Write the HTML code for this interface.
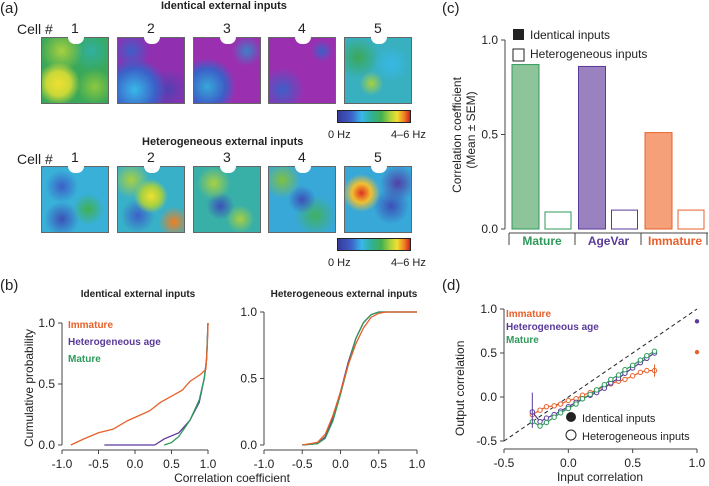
<!DOCTYPE html>
<html><head><meta charset="utf-8">
<style>
body{margin:0;background:#fff;font-family:"Liberation Sans",sans-serif;}
#root{position:relative;width:709px;height:486px;overflow:hidden;}
.t{position:absolute;font-family:"Liberation Sans",sans-serif;color:#222;white-space:nowrap;}
.hm{position:absolute;width:68px;height:67px;border:1px solid #666;box-sizing:border-box;}
.hole{position:absolute;left:26px;top:-1px;width:16px;height:7px;background:#fff;border-radius:0 0 8px 8px;}
.cb{position:absolute;width:74px;height:13px;border:1px solid #222;box-sizing:border-box;background:linear-gradient(90deg,#3a3a9a,#3c5fc8 18%,#38b8e8 33%,#30b0a0 45%,#40b050 60%,#a8d040 72%,#f0e030 82%,#f08020 92%,#d02020);}
</style></head><body>
<div id="root">
<div class="t" style="left:0;top:0;font-size:15px">(a)</div>
<div class="t" style="left:161px;top:0;font-size:11px;font-weight:bold">Identical external inputs</div>
<div class="t" style="left:17px;top:21px;font-size:14px">Cell #</div>
<div class="t" style="left:142px;top:136px;font-size:11px;font-weight:bold">Heterogeneous external inputs</div>
<div class="t" style="left:17px;top:151px;font-size:14px">Cell #</div>
<div id="hms"></div>
<div class="cb" style="left:337px;top:110px"></div>
<div class="t" style="left:328px;top:129px;font-size:11px">0 Hz</div>
<div class="t" style="left:391px;top:129px;font-size:11px">4–6 Hz</div>
<div class="cb" style="left:337px;top:238px"></div>
<div class="t" style="left:328px;top:257px;font-size:11px">0 Hz</div>
<div class="t" style="left:391px;top:257px;font-size:11px">4–6 Hz</div>
<div class="t" style="left:442px;top:0;font-size:15px">(c)</div>
<div class="t" style="left:0;top:277px;font-size:15px">(b)</div>
<div class="t" style="left:442px;top:277px;font-size:15px">(d)</div>
<svg id="svg" width="709" height="486" style="position:absolute;left:0;top:0"></svg>
</div>
<script>
// ---- heatmaps (visual images) ----
const hmX=[41,117,193,268,344];
const topBg=[
 "radial-gradient(circle at 25% 70%,#f0e030 0,#c8d838 18%,transparent 32%),radial-gradient(circle at 80% 75%,#8cc840 0,transparent 25%),radial-gradient(circle at 30% 20%,#a8d040 0,transparent 30%),radial-gradient(circle at 75% 20%,#30b0a0 0,transparent 30%),#3aa858",
 "radial-gradient(circle at 25% 80%,#38b8e8 0,#3c5fc8 30%,transparent 45%),radial-gradient(circle at 20% 20%,#3c5fc8 0,transparent 25%),radial-gradient(circle at 75% 80%,#5040b0 0,transparent 30%),#9030b0",
 "radial-gradient(circle at 20% 75%,#38a8d8 0,#3c5fc8 25%,transparent 40%),radial-gradient(circle at 80% 20%,#3c80c8 0,transparent 20%),#9a30b0",
 "radial-gradient(circle at 20% 80%,#3c5fc8 0,transparent 30%),radial-gradient(circle at 80% 20%,#3c5fc8 0,transparent 15%),#9a30b0",
 "radial-gradient(circle at 40% 70%,#a8d040 0,transparent 20%),radial-gradient(circle at 70% 40%,#38b8e8 0,transparent 30%),radial-gradient(circle at 20% 30%,#3aa858 0,transparent 30%),#38b0c0"];
const botBg=[
 "radial-gradient(circle at 30% 30%,#3c5fc8 0,transparent 25%),radial-gradient(circle at 70% 65%,#40b050 0,transparent 25%),radial-gradient(circle at 30% 80%,#3c50b8 0,transparent 25%),#38b0d8",
 "radial-gradient(circle at 50% 45%,#f0e030 0,#a8d040 20%,transparent 35%),radial-gradient(circle at 20% 20%,#a8d040 0,transparent 25%),radial-gradient(circle at 85% 85%,#f08020 0,transparent 20%),radial-gradient(circle at 30% 75%,#3c5fc8 0,transparent 25%),#38b0c8",
 "radial-gradient(circle at 30% 25%,#a8d040 0,transparent 25%),radial-gradient(circle at 70% 80%,#a8d040 0,transparent 20%),radial-gradient(circle at 40% 60%,#3c50b8 0,transparent 25%),#38b0a8",
 "radial-gradient(circle at 20% 20%,#80c040 0,transparent 25%),radial-gradient(circle at 50% 50%,#3c50b8 0,transparent 30%),radial-gradient(circle at 70% 75%,#40b060 0,transparent 30%),#38a8d8",
 "radial-gradient(circle at 25% 40%,#e03020 0,#f0c030 15%,transparent 30%),radial-gradient(circle at 70% 60%,#3c50b8 0,transparent 30%),radial-gradient(circle at 80% 25%,#5040a8 0,transparent 25%),#38a8d8"];
const hmBox=document.getElementById('hms');
hmX.forEach((x,i)=>{
 [[37,topBg],[166,botBg]].forEach(([y,bg],r)=>{
  const d=document.createElement('div');d.className='hm';
  d.style.left=x+'px';d.style.top=y+'px';d.style.background=bg[i];
  
  
  const h=document.createElement('div');h.className='hole';d.appendChild(h);
  hmBox.appendChild(d);
  const n=document.createElement('div');n.className='t';n.textContent=String(i+1);
  n.style.left=(x+30)+'px';n.style.top=(y-17)+'px';n.style.fontSize='14px';
  
  
  hmBox.appendChild(n);
 });
});

// ---- chart data ----
const barGroups=["Mature","AgeVar","Immature"];
const identicalVals=[0.87,0.86,0.51];
const heteroVals=[0.09,0.10,0.10];
const barTicks=[0,0.5,1.0];
const immatureCdfX=[-0.88,-0.7,-0.5,-0.3,-0.1,0.05,0.2,0.35,0.5,0.65,0.75,0.9,0.97,0.99,1.0];
const immatureCdfY=[0,0.05,0.1,0.13,0.2,0.24,0.28,0.35,0.4,0.45,0.52,0.58,0.62,0.8,1.0];
const ageCdfX=[-0.42,0.27,0.4,0.6,0.75,0.88,0.95,0.98,1.0];
const ageCdfY=[0,0,0.05,0.1,0.2,0.35,0.55,0.7,1.0];
const matureCdfX=[0.4,0.5,0.6,0.75,0.88,0.95,0.98,1.0];
const matureCdfY=[0,0.02,0.07,0.2,0.37,0.55,0.7,1.0];
const hetCdfX=[-0.5,-0.3,-0.2,-0.1,0,0.1,0.2,0.3,0.4,0.5,0.6,1.0];
const hetImmY=[0,0.02,0.08,0.22,0.4,0.6,0.76,0.88,0.96,0.99,1,1];
const hetAgeY=[0,0.01,0.06,0.2,0.4,0.62,0.8,0.92,0.98,1,1,1];
const hetMatY=[0,0.01,0.05,0.18,0.38,0.6,0.8,0.92,0.98,1,1,1];
const cdfTicksX=[-1.0,-0.5,0.0,0.5,1.0];
const cdfTicksY=[0,0.5,1.0];
const inX=[-0.28,-0.22,-0.17,-0.11,-0.06,0.0,0.06,0.11,0.17,0.22,0.28,0.33,0.39,0.44,0.5,0.56,0.61,0.67];
const immOut=[-0.2,-0.15,-0.11,-0.1,-0.08,-0.04,-0.02,0.02,0.05,0.08,0.12,0.15,0.18,0.2,0.24,0.28,0.3,0.3];
const ageOut=[-0.17,-0.28,-0.24,-0.2,-0.16,-0.11,-0.06,-0.02,0.02,0.05,0.1,0.16,0.21,0.27,0.33,0.39,0.44,0.5];
const matOut=[-0.28,-0.33,-0.29,-0.23,-0.18,-0.13,-0.08,-0.02,0.03,0.08,0.14,0.2,0.25,0.31,0.36,0.42,0.47,0.52];
const identPtsY=[0.86,0.51];
const corrTicksX=[-0.5,0.0,0.5,1.0];
const corrTicksY=[-0.5,0.0,0.5,1.0];

const GREEN="#2e9a5a",PURPLE="#5a3a9a",ORANGE="#e8602a";
const S=document.getElementById('svg');
function el(tag,attrs,name){const e=document.createElementNS('http://www.w3.org/2000/svg',tag);for(const k in attrs)e.setAttribute(k,attrs[k]);


S.appendChild(e);return e;}
function txt(x,y,s,name,o){const e=el('text',Object.assign({x:x,y:y,'font-size':12,'font-family':'Liberation Sans, sans-serif',fill:'#222'},o||{}),name);e.textContent=s;return e;}
function lin(d0,d1,r0,r1){return v=>r0+(v-d0)/(d1-d0)*(r1-r0);}

// ---- panel c ----
const cy=lin(0,1,229,40);
el('line',{x1:505,y1:cy(0),x2:505,y2:cy(1),stroke:'#444'},'c-y-axis');
barTicks.forEach(t=>{el('line',{x1:501,x2:505,y1:cy(t),y2:cy(t),stroke:'#444'},'c-y-tick');txt(498,cy(t)+4,t.toFixed(1),'c-y-tick-label',{'text-anchor':'end'});});
txt(0,0,'Correlation coefficient','c-y-axis-title',{transform:'translate(461,135) rotate(-90)','font-size':12,'text-anchor':'middle'});
txt(0,0,'(Mean ± SEM)','c-y-axis-title-2',{transform:'translate(475,130) rotate(-90)','font-size':12,'text-anchor':'middle'});
const gCol=[GREEN,PURPLE,ORANGE],gFill=["#8ec49a","#9a82c0","#f6a07a"];
barGroups.forEach((g,i)=>{
 const gx=512+i*66.5;
 el('rect',{x:gx,y:cy(identicalVals[i]),width:27,height:cy(0)-cy(identicalVals[i]),fill:gFill[i],stroke:gCol[i]},'bar-identical-'+g.toLowerCase());
 el('rect',{x:gx+33,y:cy(heteroVals[i]),width:26,height:cy(0)-cy(heteroVals[i]),fill:'#fff',stroke:gCol[i]},'bar-heterogeneous-'+g.toLowerCase());
 txt(gx+30,245,g,'group-label-'+g.toLowerCase(),{'text-anchor':'middle','font-weight':'bold',fill:gCol[i],'font-size':12});
});
el('line',{x1:509,x2:708,y1:233,y2:233,stroke:'#444'},'c-x-axis');
[509,575,641,707].forEach(x=>el('line',{x1:x,x2:x,y1:233,y2:245,stroke:'#444'},'c-group-divider'));
el('rect',{x:513,y:29,width:11,height:11,fill:'#222'},'legend-identical-swatch');
txt(530,39,'Identical inputs','legend-identical',{'font-size':12});
el('rect',{x:513,y:49,width:11,height:12,fill:'#fff',stroke:'#222'},'legend-heterogeneous-swatch');
txt(530,58,'Heterogeneous inputs','legend-heterogeneous',{'font-size':12});

// ---- panel b ----
function cdfPanel(x0,x1,y0,y1,series,pfx){
 const fx=lin(-1,1,x0,x1),fy=lin(0,1,y0,y1);
 el('line',{x1:x0,x2:x0,y1:y0,y2:y1,stroke:'#444'},pfx+'-y-axis');
 el('line',{x1:x0,x2:x1,y1:y0+5,y2:y0+5,stroke:'#444'},pfx+'-x-axis');
 cdfTicksY.forEach(t=>{el('line',{x1:x0-4,x2:x0,y1:fy(t),y2:fy(t),stroke:'#444'},pfx+'-y-tick');txt(x0-7,fy(t)+4,t.toFixed(1),pfx+'-y-tick-label',{'text-anchor':'end'});});
 cdfTicksX.forEach(t=>{el('line',{x1:fx(t),x2:fx(t),y1:y0+5,y2:y0+9,stroke:'#444'},pfx+'-x-tick');txt(fx(t),y0+23,t.toFixed(1),pfx+'-x-tick-label',{'text-anchor':'middle'});});
 series.forEach(([xs,ys,c,n])=>{el('polyline',{points:xs.map((x,i)=>fx(x)+','+fy(ys[i])).join(' '),fill:'none',stroke:c,'stroke-width':1.3},pfx+'-'+n+'-line');});
}
cdfPanel(62,208,445,323,[[ageCdfX,ageCdfY,PURPLE,'age'],[matureCdfX,matureCdfY,GREEN,'mature'],[immatureCdfX,immatureCdfY,ORANGE,'immature']],'bl');
cdfPanel(264,417,445,312,[[hetCdfX,hetAgeY,PURPLE,'age'],[hetCdfX,hetMatY,GREEN,'mature'],[hetCdfX,hetImmY,ORANGE,'immature']],'br');
txt(138,297,'Identical external inputs','bl-title',{'text-anchor':'middle','font-weight':'bold','font-size':10});
txt(344,297,'Heterogeneous external inputs','br-title',{'text-anchor':'middle','font-weight':'bold','font-size':10});
txt(0,0,'Cumulative probability','bl-y-title',{transform:'translate(33,447) rotate(-90)','font-size':12});
txt(232,482,'Correlation coefficient','b-x-title',{'text-anchor':'middle','font-size':12});
txt(68,328,'Immature','bl-legend-immature',{fill:ORANGE,'font-weight':'bold','font-size':10});
txt(68,345,'Heterogeneous age','bl-legend-age',{fill:PURPLE,'font-weight':'bold','font-size':10});
txt(68,362,'Mature','bl-legend-mature',{fill:GREEN,'font-weight':'bold','font-size':10});

// ---- panel d ----
const dx=lin(-0.5,1,504,697),dy=lin(-0.5,1,441,309);
el('line',{x1:504,x2:504,y1:dy(-0.5),y2:dy(1),stroke:'#444'},'d-y-axis');
el('line',{x1:504,x2:697,y1:449,y2:449,stroke:'#444'},'d-x-axis');
corrTicksY.forEach(t=>{el('line',{x1:500,x2:504,y1:dy(t),y2:dy(t),stroke:'#444'},'d-y-tick');txt(497,dy(t)+4,t.toFixed(1),'d-y-tick-label',{'text-anchor':'end'});});
corrTicksX.forEach(t=>{el('line',{x1:dx(t),x2:dx(t),y1:449,y2:453,stroke:'#444'},'d-x-tick');txt(dx(t),467,t.toFixed(1),'d-x-tick-label',{'text-anchor':'middle'});});
el('line',{x1:dx(-0.5),y1:dy(-0.5),x2:dx(1),y2:dy(1),stroke:'#222','stroke-dasharray':'4,3'},'identity-line');
txt(0,0,'Output correlation','d-y-title',{transform:'translate(464,436) rotate(-90)','font-size':12});
txt(600,481,'Input correlation','d-x-title',{'text-anchor':'middle','font-size':12});
[[immOut,ORANGE,'immature'],[ageOut,PURPLE,'age'],[matOut,GREEN,'mature']].forEach(([ys,c,n])=>{
 el('polyline',{points:inX.map((x,i)=>dx(x)+','+dy(ys[i])).join(' '),fill:'none',stroke:c,'stroke-width':1.2},'d-'+n+'-line');
 inX.forEach((x,i)=>el('circle',{cx:dx(x),cy:dy(ys[i]),r:2.2,fill:'#fff',stroke:c,'stroke-width':1},'d-'+n+'-point'));
});
el('line',{x1:dx(-0.28),x2:dx(-0.28),y1:dy(0.05),y2:dy(-0.35),stroke:PURPLE},'d-age-errorbar');
el('line',{x1:dx(0.67),x2:dx(0.67),y1:dy(0.37),y2:dy(0.23),stroke:ORANGE},'d-immature-errorbar');
el('circle',{cx:dx(1),cy:dy(identPtsY[0]),r:2.2,fill:PURPLE},'d-identical-age-point');
el('circle',{cx:dx(1),cy:dy(identPtsY[1]),r:2.2,fill:ORANGE},'d-identical-immature-point');
txt(506,317,'Immature','d-legend-immature',{fill:ORANGE,'font-weight':'bold','font-size':10});
txt(506,330,'Heterogeneous age','d-legend-age',{fill:PURPLE,'font-weight':'bold','font-size':10});
txt(506,343,'Mature','d-legend-mature',{fill:GREEN,'font-weight':'bold','font-size':10});
el('circle',{cx:571,cy:417,r:5,fill:'#222'},'d-legend-identical-marker');
txt(582,422,'Identical inputs','d-legend-identical',{'font-size':11});
el('circle',{cx:571,cy:435,r:5,fill:'#fff',stroke:'#222'},'d-legend-hetero-marker');
txt(582,440,'Heterogeneous inputs','d-legend-hetero',{'font-size':11});
</script>
</body></html>
